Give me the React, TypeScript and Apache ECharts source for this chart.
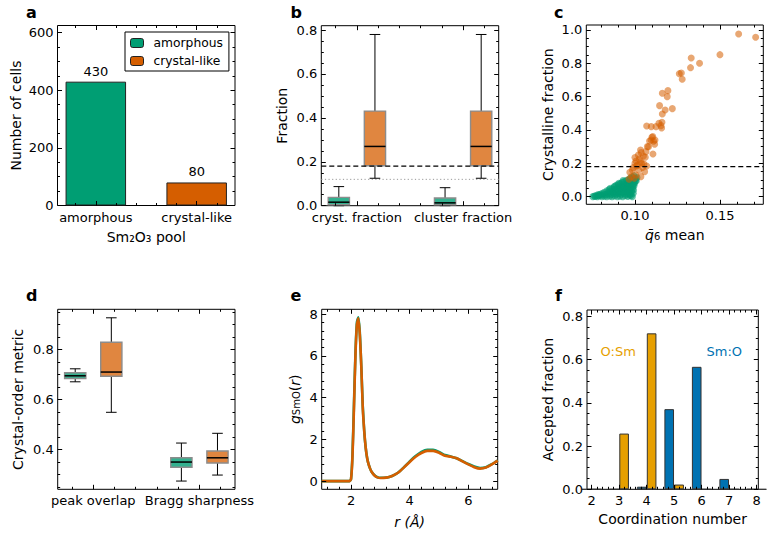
import React, { useEffect, useRef } from "react";
import * as echarts from "echarts";

const FONT = "DejaVu Sans";
const GREEN = "#009E73";
const ORANGE = "#D55E00";
const GREEN_BOX = "rgba(0,158,115,0.8)";
const ORANGE_BOX = "rgba(213,94,0,0.75)";
const F_ORANGE = "#E69F00";
const F_BLUE = "#0072B2";

// ---- panel a ----
const poolCats = ["amorphous", "crystal-like"];
const poolCounts = [430, 80];
const aYMajor = [0, 200, 400, 600];
const aYMinor = [50, 100, 150, 250, 300, 350, 450, 500, 550];
const catMajor = [0, 1];
const catMinor = [-0.2, 0.2, 0.4, 0.6, 0.8, 1.2];

// ---- panel b ----
const fracCats = ["cryst. fraction", "cluster fraction"];
// [low whisker, q1, median, q3, high whisker]
const bAmorph = [
  [0, 0.004, 0.016, 0.038, 0.087],
  [0, 0.004, 0.013, 0.035, 0.082],
];
const bCrystal = [
  [0.125, 0.182, 0.27, 0.431, 0.78],
  [0.125, 0.182, 0.27, 0.431, 0.78],
];
const CRYST_THRESH = 0.18;
const AMORPH_THRESH = 0.12;
const bYMajor = [0, 0.2, 0.4, 0.6, 0.8];
const bYMinor = [0.05, 0.1, 0.15, 0.25, 0.3, 0.35, 0.45, 0.5, 0.55, 0.65, 0.7, 0.75];

// ---- panel c ----
const cAmorph = [
  [0.0752, 0.0], [0.0766, 0.001], [0.0779, 0.0], [0.0791, 0.004], [0.0806, 0.0], [0.0821, 0.002],
  [0.0834, 0.0], [0.0852, 0.003], [0.0866, 0.0], [0.0881, 0.004], [0.0897, 0.0], [0.0912, 0.002],
  [0.0928, 0.0], [0.0943, 0.005], [0.0958, 0.001], [0.0969, 0.008], [0.0772, 0.006], [0.0788, 0.008],
  [0.0806, 0.01], [0.082, 0.014], [0.0834, 0.012], [0.0848, 0.017], [0.0862, 0.013], [0.0877, 0.018],
  [0.0891, 0.014], [0.0905, 0.019], [0.0919, 0.015], [0.0933, 0.02], [0.0947, 0.014], [0.0961, 0.018],
  [0.0974, 0.016], [0.0843, 0.027], [0.0857, 0.031], [0.0871, 0.028], [0.0885, 0.033], [0.0899, 0.029],
  [0.0913, 0.034], [0.0927, 0.03], [0.0941, 0.035], [0.0955, 0.031], [0.0968, 0.034], [0.098, 0.03],
  [0.0877, 0.043], [0.0891, 0.047], [0.0905, 0.044], [0.0919, 0.049], [0.0933, 0.045], [0.0947, 0.05],
  [0.096, 0.046], [0.0973, 0.049], [0.0985, 0.045], [0.0908, 0.058], [0.0922, 0.062], [0.0936, 0.059],
  [0.095, 0.064], [0.0963, 0.06], [0.0976, 0.063], [0.0988, 0.059], [0.0938, 0.073], [0.0952, 0.077],
  [0.0966, 0.074], [0.0979, 0.078], [0.0991, 0.075], [0.0965, 0.088], [0.0979, 0.092], [0.0992, 0.089],
  [0.1002, 0.093], [0.0993, 0.103], [0.1005, 0.107], [0.0972, 0.104], [0.0985, 0.0], [0.0978, 0.006],
  [0.0865, 0.045], [0.0878, 0.058], [0.089, 0.068], [0.0902, 0.072], [0.0915, 0.078], [0.0925, 0.086],
  [0.0938, 0.09], [0.095, 0.098], [0.096, 0.1], [0.0972, 0.112], [0.0985, 0.118], [0.0995, 0.125],
  [0.0835, 0.035], [0.0848, 0.042], [0.082, 0.026], [0.0808, 0.02], [0.0795, 0.014], [0.0998, 0.08],
  [0.1008, 0.096], [0.1012, 0.115], [0.0995, 0.065], [0.0992, 0.04], [0.099, 0.02], [0.0855, 0.05],
  [0.088, 0.062], [0.0905, 0.08], [0.093, 0.096], [0.0783, 0.012], [0.0761, 0.004],
];
const cCrystal = [
  [0.161, 0.976], [0.171, 0.956], [0.15, 0.852], [0.1331, 0.832], [0.138, 0.8], [0.1327, 0.774],
  [0.1261, 0.738], [0.1273, 0.742], [0.1278, 0.704], [0.1161, 0.62], [0.1194, 0.636], [0.119, 0.6],
  [0.1145, 0.546], [0.1178, 0.52], [0.122, 0.528], [0.1161, 0.496], [0.1124, 0.42], [0.1159, 0.446],
  [0.1153, 0.426], [0.1141, 0.44], [0.1069, 0.424], [0.1096, 0.42], [0.11, 0.356], [0.111, 0.332],
  [0.1086, 0.334], [0.1116, 0.314], [0.1073, 0.3], [0.1033, 0.28], [0.1106, 0.256], [0.105, 0.244],
  [0.1037, 0.264], [0.1061, 0.236], [0.1006, 0.214], [0.1033, 0.21], [0.1053, 0.196], [0.1069, 0.184],
  [0.101, 0.184], [0.099, 0.174], [0.1022, 0.16], [0.1057, 0.15], [0.097, 0.146], [0.1006, 0.13],
  [0.098, 0.12], [0.0996, 0.11], [0.1035, 0.12], [0.0965, 0.105], [0.1015, 0.19], [0.1045, 0.175],
  [0.1025, 0.225], [0.1065, 0.27], [0.1, 0.2], [0.0985, 0.16], [0.104, 0.2], [0.108, 0.3],
  [0.1095, 0.34], [0.1105, 0.36], [0.102, 0.25], [0.1, 0.235], [0.1157, 0.412], [0.1118, 0.34],
];
const cXMajor = [0.1, 0.15];
const cXMinor = [0.08, 0.09, 0.11, 0.12, 0.13, 0.14, 0.16, 0.17];
const cYMajor = [0, 0.2, 0.4, 0.6, 0.8, 1.0];
const cYMinor = [0.05, 0.1, 0.15, 0.25, 0.3, 0.35, 0.45, 0.5, 0.55, 0.65, 0.7, 0.75, 0.85, 0.9, 0.95];

// ---- panel d ----
const metricCats = ["peak overlap", "Bragg sharpness"];
const dAmorph = [
  [0.67, 0.683, 0.694, 0.706, 0.722],
  [0.273, 0.328, 0.349, 0.366, 0.425],
];
const dCrystal = [
  [0.548, 0.692, 0.709, 0.828, 0.926],
  [0.297, 0.345, 0.366, 0.393, 0.464],
];
const dYMajor = [0.4, 0.6, 0.8];
const dYMinor = [0.25, 0.3, 0.35, 0.45, 0.5, 0.55, 0.65, 0.7, 0.75, 0.85, 0.9, 0.95];

// ---- panel e ----
const rVals = [1.0, 1.5, 1.9, 1.95, 2.0, 2.05, 2.1, 2.15, 2.2, 2.25, 2.3, 2.35, 2.4, 2.45, 2.5, 2.55, 2.6, 2.65, 2.7, 2.8, 2.9, 3.0, 3.2, 3.4, 3.6, 3.8, 4.0, 4.2, 4.4, 4.6, 4.8, 5.0, 5.2, 5.4, 5.6, 5.8, 6.0, 6.2, 6.4, 6.6, 6.8, 7.0];
const gAmorph = [0, 0, 0, 0, 0.1, 1.3, 3.7, 6.1, 7.6, 7.85, 7.1, 5.5, 3.6, 2.4, 1.6, 1.1, 0.8, 0.6, 0.45, 0.28, 0.19, 0.16, 0.17, 0.25, 0.4, 0.66, 0.95, 1.2, 1.4, 1.5, 1.5, 1.4, 1.25, 1.18, 1.1, 0.96, 0.82, 0.7, 0.63, 0.67, 0.81, 0.99];
const gCrystal = [0, 0, 0, 0, 0.1, 1.2, 3.5, 6.0, 7.5, 7.8, 7.0, 5.5, 3.5, 2.4, 1.6, 1.1, 0.8, 0.6, 0.45, 0.27, 0.18, 0.15, 0.17, 0.25, 0.4, 0.65, 0.92, 1.17, 1.35, 1.45, 1.45, 1.36, 1.22, 1.17, 1.1, 0.95, 0.8, 0.67, 0.6, 0.65, 0.8, 0.98];
const eXMajor = [2, 4, 6];
const eXMinor = [1.2, 1.6, 2.4, 2.8, 3.2, 3.6, 4.4, 4.8, 5.2, 5.6, 6.4, 6.8];
const eYMajor = [0, 2, 4, 6, 8];
const eYMinor = [0.4, 0.8, 1.2, 1.6, 2.4, 2.8, 3.2, 3.6, 4.4, 4.8, 5.2, 5.6, 6.4, 6.8, 7.2, 7.6];

// ---- panel f ----
const coordNums = [2, 3, 4, 5, 6, 7, 8];
const oSm = [0, 0.258, 0.722, 0.022, 0, 0, 0];
const smO = [0, 0, 0.012, 0.371, 0.567, 0.048, 0];
const fXMajor = [2, 3, 4, 5, 6, 7, 8];
const fXMinor = [2.2, 2.4, 2.6, 2.8, 3.2, 3.4, 3.6, 3.8, 4.2, 4.4, 4.6, 4.8, 5.2, 5.4, 5.6, 5.8, 6.2, 6.4, 6.6, 6.8, 7.2, 7.4, 7.6, 7.8, 8.2];
const fYMajor = [0, 0.2, 0.4, 0.6, 0.8];
const fYMinor = [0.05, 0.1, 0.15, 0.25, 0.3, 0.35, 0.45, 0.5, 0.55, 0.65, 0.7, 0.75];

const BOX_W = 0.2;
const BOX_OFF = 0.17;
const F_OFF = 0.18;
const F_BAR = 0.35;

type Ax = {
  min: number; max: number; major: number[]; minor: number[];
  fmt: (v: number) => string; name?: string; gap?: number;
};

const RICH = {
  n: { fontFamily: FONT, fontSize: 14, color: "#000", padding: [0, 0, 4, 0] },
  i: { fontFamily: FONT, fontSize: 14, fontStyle: "italic", color: "#000", padding: [0, 0, 4, 0] },
  s: { fontFamily: FONT, fontSize: 10, color: "#000" },
};

function buildAxis(dim: "x" | "y", grid: number, ax: Ax, pos: string, kind: "main" | "major" | "minor") {
  const minor = kind === "minor";
  const a: any = {
    type: "value", gridIndex: grid, position: pos, min: ax.min, max: ax.max,
    axisLine: { show: false, onZero: false },
    splitLine: { show: false },
    axisTick: {
      show: true, inside: true, length: minor ? 2.5 : 4.5,
      customValues: minor ? ax.minor : ax.major,
      lineStyle: { color: "#000", width: 1 },
    },
    axisLabel: { show: false },
    z: 5,
  };
  if (kind === "main") {
    a.axisLabel = {
      show: true, customValues: ax.major, formatter: (v: number) => ax.fmt(v),
      margin: dim === "x" ? 5 : 4, color: "#000", fontFamily: FONT, fontSize: 13,
    };
    if (ax.name) {
      a.name = ax.name;
      a.nameLocation = "middle";
      a.nameGap = ax.gap;
      a.nameTextStyle = { fontFamily: FONT, fontSize: 14, color: "#000", rich: RICH };
    }
  }
  return a;
}

function boxRenderer(fill: string) {
  return (_p: any, api: any) => {
    const x = api.value(0);
    const pts = [1, 2, 3, 4, 5].map((i) => api.coord([x, api.value(i)]));
    const [pLo, pQ1, pMed, pQ3, pHi] = pts;
    const cx = pLo[0];
    const w = api.size([BOX_W, 0])[0];
    const ls = { stroke: "#000", lineWidth: 1 };
    return {
      type: "group",
      children: [
        { type: "line", shape: { x1: cx, y1: pQ1[1], x2: cx, y2: pLo[1] }, style: ls },
        { type: "line", shape: { x1: cx, y1: pQ3[1], x2: cx, y2: pHi[1] }, style: ls },
        { type: "line", shape: { x1: cx - w / 4, y1: pLo[1], x2: cx + w / 4, y2: pLo[1] }, style: ls },
        { type: "line", shape: { x1: cx - w / 4, y1: pHi[1], x2: cx + w / 4, y2: pHi[1] }, style: ls },
        { type: "rect", shape: { x: cx - w / 2, y: pQ3[1], width: w, height: pQ1[1] - pQ3[1] }, style: { fill, stroke: "#8c8c8c", lineWidth: 1.4 } },
        { type: "line", shape: { x1: cx - w / 2, y1: pMed[1], x2: cx + w / 2, y2: pMed[1] }, style: { stroke: "#000", lineWidth: 1.5 } },
      ],
    };
  };
}

function App() {
  const ref = useRef<HTMLDivElement>(null);
  useEffect(() => {
    if (!ref.current) return;
    const chart = echarts.init(ref.current, undefined, { renderer: "svg" });

    const grids = [
      { left: 57.5, top: 25.5, width: 177.5, height: 180 },
      { left: 321.3, top: 25.7, width: 177.4, height: 180 },
      { left: 586.3, top: 25, width: 177, height: 179.3 },
      { left: 57.7, top: 309.3, width: 177.3, height: 180 },
      { left: 321.7, top: 309.3, width: 176, height: 180 },
      { left: 587, top: 310, width: 171.3, height: 179.3 },
    ].map((g) => ({ ...g, show: true, borderColor: "#000", borderWidth: 1, backgroundColor: "transparent", containLabel: false, outerBoundsMode: "none" }));

    const xAxis: any[] = [];
    const yAxis: any[] = [];
    const panel = (grid: number, x: Ax, y: Ax) => {
      const xi = xAxis.length;
      const yi = yAxis.length;
      xAxis.push(buildAxis("x", grid, x, "bottom", "main"), buildAxis("x", grid, x, "bottom", "minor"),
        buildAxis("x", grid, x, "top", "major"), buildAxis("x", grid, x, "top", "minor"));
      yAxis.push(buildAxis("y", grid, y, "left", "main"), buildAxis("y", grid, y, "left", "minor"),
        buildAxis("y", grid, y, "right", "major"), buildAxis("y", grid, y, "right", "minor"));
      return { xAxisIndex: xi, yAxisIndex: yi };
    };
    const f0 = (v: number) => String(Math.round(v));
    const f1 = (v: number) => v.toFixed(1);
    const f2 = (v: number) => v.toFixed(2);

    const A = panel(0,
      { min: -0.38, max: 1.38, major: catMajor, minor: catMinor, fmt: (v) => poolCats[Math.round(v)], name: "Sm₂O₃ pool", gap: 24 },
      { min: 0, max: 625, major: aYMajor, minor: aYMinor, fmt: f0, name: "Number of cells", gap: 35 });
    const B = panel(1,
      { min: -0.335, max: 1.335, major: catMajor, minor: catMinor, fmt: (v) => fracCats[Math.round(v)] },
      { min: 0, max: 0.82, major: bYMajor, minor: bYMinor, fmt: f1, name: "Fraction", gap: 32 });
    const C = panel(2,
      { min: 0.0714, max: 0.1755, major: cXMajor, minor: cXMinor, fmt: f2, name: "{i|q̄}{s|6}{n| mean}", gap: 23.5 },
      { min: -0.046, max: 1.03, major: cYMajor, minor: cYMinor, fmt: f1, name: "Crystalline fraction", gap: 31 });
    const D = panel(3,
      { min: -0.335, max: 1.335, major: catMajor, minor: catMinor, fmt: (v) => metricCats[Math.round(v)] },
      { min: 0.24, max: 0.96, major: dYMajor, minor: dYMinor, fmt: f1, name: "Crystal-order metric", gap: 33 });
    const E = panel(4,
      { min: 1, max: 7, major: eXMajor, minor: eXMinor, fmt: f0, name: "{i|r}{n| }{i|(Å)}", gap: 26 },
      { min: -0.39, max: 8.23, major: eYMajor, minor: eYMinor, fmt: f0, name: "{i|g}{s|SmO}{n|(}{i|r}{n|)}", gap: 16 });
    const F = panel(5,
      { min: 1.83, max: 8.06, major: fXMajor, minor: fXMinor, fmt: f0, name: "Coordination number", gap: 23 },
      { min: 0, max: 0.83, major: fYMajor, minor: fYMinor, fmt: f1, name: "Accepted fraction", gap: 32 });

    const lbl = { color: "#000", fontFamily: FONT, fontSize: 13 };

    const boxData = (rows: number[][], off: number) => rows.map((r, i) => [i + off, ...r]);
    const fBarPx = F_BAR * (171.3 / (8.06 - 1.83));

    const series: any[] = [
      // a
      {
        type: "bar", name: poolCats[0], ...A, data: [[0, poolCounts[0]]], barWidth: 60.5, barGap: "-100%",
        itemStyle: { color: GREEN, borderColor: "#222", borderWidth: 1 },
        label: { show: true, position: "top", distance: 4, ...lbl },
      },
      {
        type: "bar", name: poolCats[1], ...A, data: [[1, poolCounts[1]]], barWidth: 60.5, barGap: "-100%",
        itemStyle: { color: ORANGE, borderColor: "#222", borderWidth: 1 },
        label: { show: true, position: "top", distance: 4, ...lbl },
      },
      // b
      {
        type: "line", ...B, data: [[-0.335, AMORPH_THRESH], [1.335, AMORPH_THRESH]], symbol: "none",
        lineStyle: { color: "#999", width: 1, type: [1.2, 2.4] }, z: 1,
      },
      {
        type: "custom", ...B, data: boxData(bAmorph, -BOX_OFF), renderItem: boxRenderer(GREEN_BOX),
        encode: { x: 0, y: [1, 2, 3, 4, 5] }, z: 2,
      },
      {
        type: "custom", ...B, data: boxData(bCrystal, BOX_OFF), renderItem: boxRenderer(ORANGE_BOX),
        encode: { x: 0, y: [1, 2, 3, 4, 5] }, z: 2,
      },
      {
        type: "line", ...B, data: [[-0.335, CRYST_THRESH], [1.335, CRYST_THRESH]], symbol: "none",
        lineStyle: { color: "#000", width: 1.3, type: [5, 3] }, z: 3,
      },
      // c
      {
        type: "scatter", ...C, data: cAmorph, symbolSize: 7,
        itemStyle: { color: GREEN, opacity: 0.6 },
      },
      {
        type: "scatter", ...C, data: cCrystal, symbolSize: 7,
        itemStyle: { color: ORANGE, opacity: 0.55 },
      },
      {
        type: "line", ...C, data: [[0.0714, CRYST_THRESH], [0.1755, CRYST_THRESH]], symbol: "none",
        lineStyle: { color: "#000", width: 1.3, type: [5, 3] }, z: 3,
      },
      // d
      {
        type: "custom", ...D, data: boxData(dAmorph, -BOX_OFF), renderItem: boxRenderer(GREEN_BOX),
        encode: { x: 0, y: [1, 2, 3, 4, 5] },
      },
      {
        type: "custom", ...D, data: boxData(dCrystal, BOX_OFF), renderItem: boxRenderer(ORANGE_BOX),
        encode: { x: 0, y: [1, 2, 3, 4, 5] },
      },
      // e
      {
        type: "line", ...E, data: rVals.map((r, i) => [r, gAmorph[i]]), symbol: "none", smooth: 0.2,
        lineStyle: { color: GREEN, width: 2.6 },
      },
      {
        type: "line", ...E, data: rVals.map((r, i) => [r, gCrystal[i]]), symbol: "none", smooth: 0.2,
        lineStyle: { color: ORANGE, width: 2.6 },
      },
      // f
      {
        type: "bar", name: "Sm:O", ...F, data: coordNums.map((n, i) => [n - F_OFF, smO[i]]),
        barWidth: fBarPx, barGap: "-100%",
        itemStyle: { color: F_BLUE, borderColor: "#333", borderWidth: 1 },
      },
      {
        type: "bar", name: "O:Sm", ...F, data: coordNums.map((n, i) => [n + F_OFF, oSm[i]]),
        barWidth: fBarPx, barGap: "-100%",
        itemStyle: { color: F_ORANGE, borderColor: "#333", borderWidth: 1 },
      },
    ];

    const letter = (t: string, x: number, y: number) => ({
      type: "text", left: x, top: y,
      style: { text: t, fontFamily: FONT, fontSize: 16, fontWeight: "bold", fill: "#000" },
    });
    const note = (t: string, x: number, y: number, c: string) => ({
      type: "text", left: x, top: y,
      style: { text: t, fontFamily: FONT, fontSize: 13, fill: c },
    });

    chart.setOption({
      animation: false,
      backgroundColor: "#fff",
      textStyle: { fontFamily: FONT },
      grid: grids,
      xAxis,
      yAxis,
      legend: {
        data: poolCats, left: 125, top: 32, orient: "vertical",
        itemWidth: 13, itemHeight: 9, itemGap: 6, padding: [5, 6, 4, 5],
        borderColor: "#000", borderWidth: 1, backgroundColor: "#fff",
        textStyle: { fontFamily: FONT, fontSize: 12.3, color: "#000", padding: [0, 0, 0, 5] },
        itemStyle: { borderColor: "#222", borderWidth: 1 },
        selectedMode: false,
      },
      series,
      graphic: [
        letter("a", 26, 4), letter("b", 290.5, 4), letter("c", 554, 4),
        letter("d", 26, 287.5), letter("e", 290.5, 287.5), letter("f", 555, 287.5),
        note("O:Sm", 600.5, 344.5, F_ORANGE), note("Sm:O", 706.5, 344.5, F_BLUE),
      ],
    });
    return () => chart.dispose();
  }, []);
  return <div ref={ref} style={{ position: "fixed", left: 0, top: 0, width: 770, height: 535, background: "#fff" }} />;
}

export default App;
